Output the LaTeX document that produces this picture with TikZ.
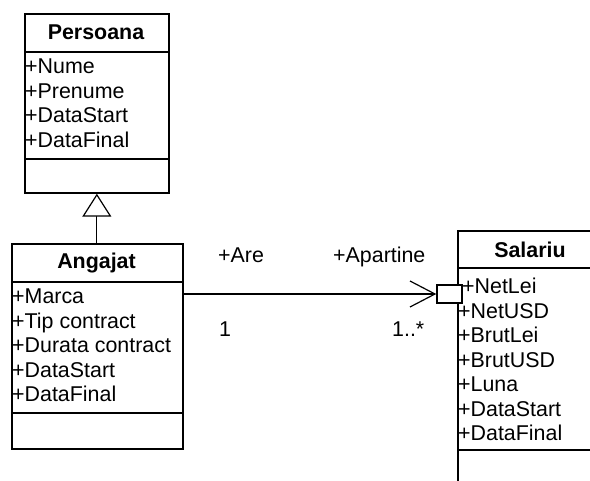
\documentclass[tikz,border=0pt]{standalone}
\usepackage{fontspec}
\setmainfont{Liberation Sans}
\usetikzlibrary{arrows.meta}
\begin{document}
\begin{tikzpicture}[x=1pt,y=-1pt,
  box/.style={draw, line width=1.7pt, rectangle, inner sep=0pt, anchor=north west},
  attr/.style={anchor=base west, inner sep=0pt, font=\fontsize{21.4}{24}\selectfont},
  ttl/.style={anchor=base, inner sep=0pt, font=\fontsize{21.4}{24}\selectfont\bfseries},
  lbl/.style={anchor=base west, inner sep=0pt, font=\fontsize{21.4}{24}\selectfont},
  sep/.style={line width=1.7pt},
  conn/.style={line width=1.2pt}]
\useasboundingbox (0,0) rectangle (590,481);
\clip (0,0) rectangle (590,481);
% Persoana
\node[box, minimum width=144pt, minimum height=179pt] (persoana) at (24,13) {};
\draw[sep] (24,52) -- (168,52);
\draw[sep] (24,159) -- (168,159);
\node[ttl] (pt) at (96,40) {Persoana};
\node[attr] (p1) at (25,74) {+Nume};
\node[attr] (p2) at (25,98.5) {+Prenume};
\node[attr] (p3) at (25,123) {+DataStart};
\node[attr] (p4) at (25,147.5) {+DataFinal};
% Angajat
\node[box, minimum width=171pt, minimum height=205pt] (angajat) at (11,243) {};
\draw[sep] (11,282) -- (182,282);
\draw[sep] (11,413) -- (182,413);
\node[ttl] (at) at (96.5,269) {Angajat};
\node[attr] (a1) at (12,304) {+Marca};
\node[attr] (a2) at (12,328.5) {+Tip contract};
\node[attr] (a3) at (12,353) {+Durata contract};
\node[attr] (a4) at (12,377.5) {+DataStart};
\node[attr] (a5) at (12,402) {+DataFinal};
% Salariu
\node[box, minimum width=146pt, minimum height=300pt] (salariu) at (457,230) {};
\draw[sep] (457,268) -- (603,268);
\draw[sep] (457,450) -- (603,450);
\node[ttl] (st) at (530,257.5) {Salariu};
\node[attr] (s1) at (462,294) {+NetLei};
\node[attr] (s2) at (458,318.5) {+NetUSD};
\node[attr] (s3) at (458,343) {+BrutLei};
\node[attr] (s4) at (458,367.5) {+BrutUSD};
\node[attr] (s5) at (458,392) {+Luna};
\node[attr] (s6) at (458,416.5) {+DataStart};
\node[attr] (s7) at (458,441) {+DataFinal};
% qualifier box
\node[draw, line width=1.4pt, fill=white, minimum width=25pt, minimum height=18pt, inner sep=0pt] (qual) at (449.5,294) {};
% generalization
\draw[conn, -{Triangle[open, length=23pt, width=29pt, fill=white]}] (persoana.south |- angajat.north) -- (persoana.south);
% association
\draw[conn, -{Straight Barb[length=25pt, width=26pt]}] (angajat.east |- qual.west) -- (qual.west);
\node[lbl] (l1) at (218,263) {+Are};
\node[lbl] (l2) at (333,263) {+Apartine};
\node[lbl] (l3) at (219,337) {1};
\node[lbl] (l4) at (392,337) {1..*};
\end{tikzpicture}
\end{document}
